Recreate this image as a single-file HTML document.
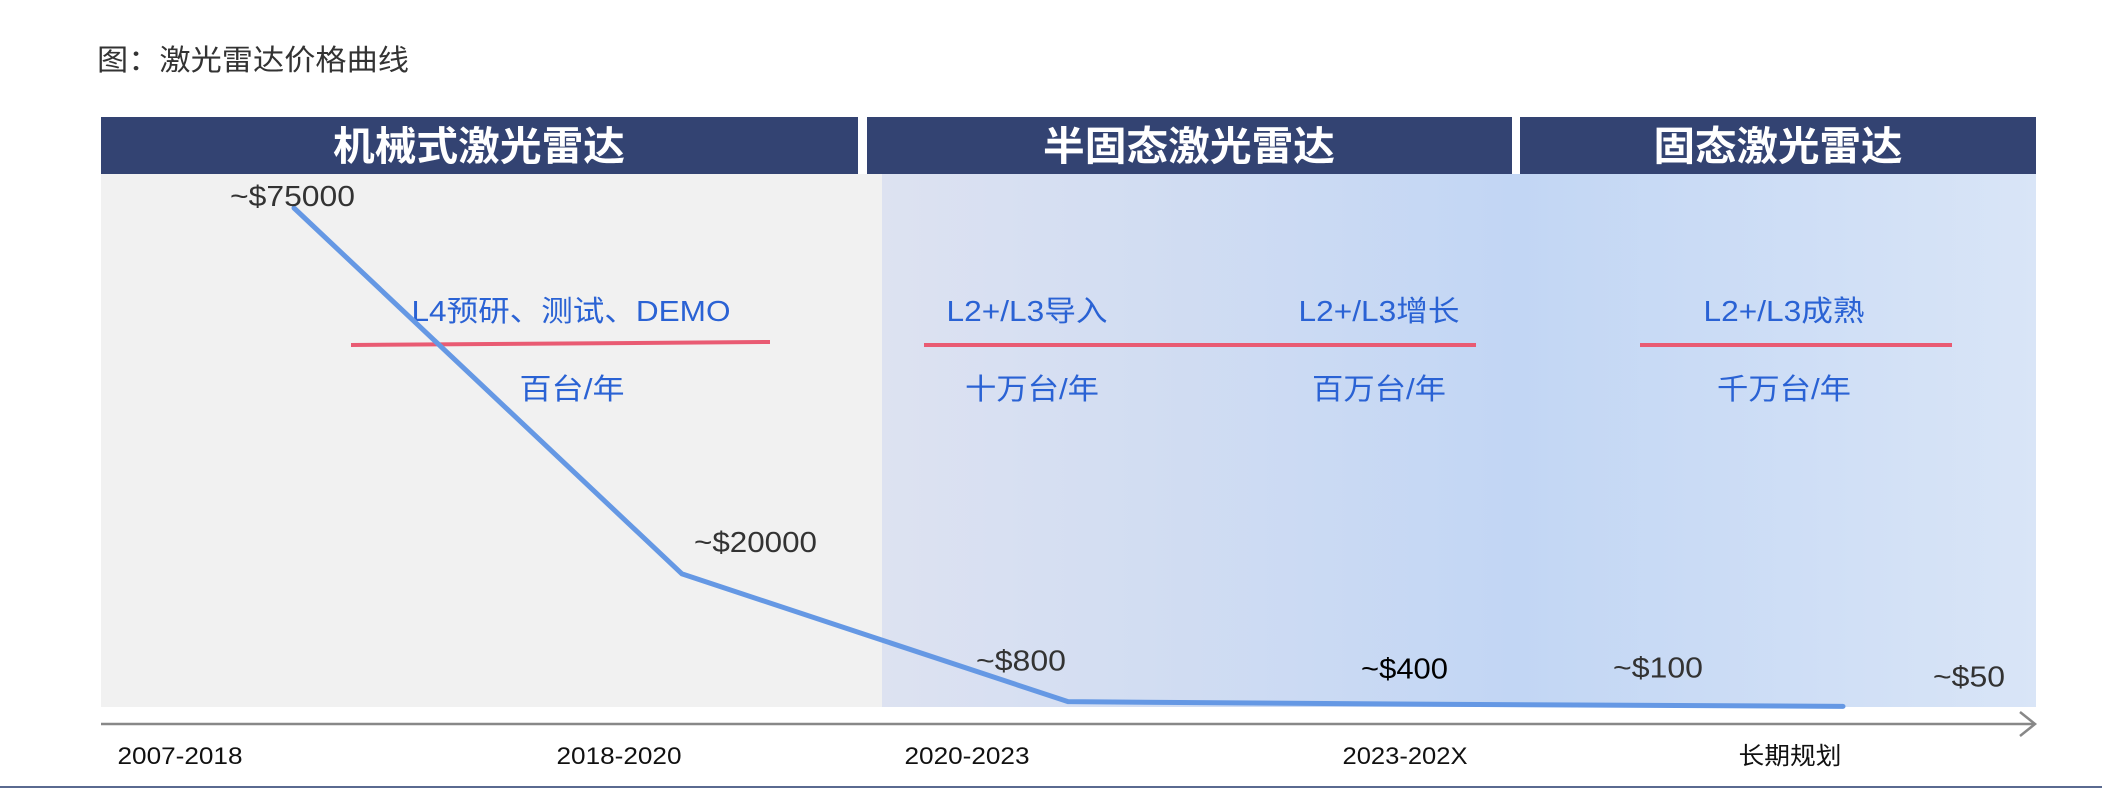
<!DOCTYPE html>
<html><head><meta charset="utf-8"><style>
html,body{margin:0;padding:0;background:#fff;}
svg{display:block;font-family:"Liberation Sans","Noto Sans CJK SC",sans-serif;}
</style></head><body>
<svg id="chart" width="2102" height="790" viewBox="0 0 2102 790">
<defs>
<linearGradient id="g" x1="0" x2="1" y1="0" y2="0">
<stop offset="0" stop-color="#dde2f1"/><stop offset="0.55" stop-color="#c2d6f4"/><stop offset="1" stop-color="#d9e5f7"/>
</linearGradient>
</defs>
<text x="97" y="70" font-size="29" fill="#333" textLength="312" lengthAdjust="spacingAndGlyphs">图：激光雷达价格曲线</text>
<rect x="101" y="117" width="757" height="57" fill="#334372"/>
<rect x="867" y="117" width="645" height="57" fill="#334372"/>
<rect x="1520" y="117" width="516" height="57" fill="#334372"/>
<g font-size="40" font-weight="bold" fill="#fff" text-anchor="middle" lengthAdjust="spacingAndGlyphs">
<text x="479" y="160" textLength="292" lengthAdjust="spacingAndGlyphs">机械式激光雷达</text>
<text x="1189" y="160" textLength="292" lengthAdjust="spacingAndGlyphs">半固态激光雷达</text>
<text x="1778" y="160" textLength="249" lengthAdjust="spacingAndGlyphs">固态激光雷达</text>
</g>
<rect x="101" y="174" width="781" height="533" fill="#f1f1f1"/>
<rect x="882" y="174" width="1154" height="533" fill="url(#g)"/>
<g fill="#2a62d4" font-size="29" text-anchor="middle">
<text x="571" y="321" textLength="319" lengthAdjust="spacingAndGlyphs">L4预研、测试、DEMO</text>
<text x="572" y="399" textLength="105" lengthAdjust="spacingAndGlyphs">百台/年</text>
<text x="1027" y="321" textLength="161" lengthAdjust="spacingAndGlyphs">L2+/L3导入</text>
<text x="1379" y="321" textLength="161" lengthAdjust="spacingAndGlyphs">L2+/L3增长</text>
<text x="1032" y="399" textLength="134" lengthAdjust="spacingAndGlyphs">十万台/年</text>
<text x="1379" y="399" textLength="134" lengthAdjust="spacingAndGlyphs">百万台/年</text>
<text x="1784" y="321" textLength="161" lengthAdjust="spacingAndGlyphs">L2+/L3成熟</text>
<text x="1784" y="399" textLength="134" lengthAdjust="spacingAndGlyphs">千万台/年</text>
</g>
<g stroke="#e95b73" stroke-width="4">
<line x1="351" y1="345" x2="770" y2="342"/>
<line x1="924" y1="345" x2="1476" y2="345"/>
<line x1="1640" y1="345" x2="1952" y2="345"/>
</g>
<g id="plot"></g>
<line x1="101" y1="724" x2="2034" y2="724" stroke="#888" stroke-width="2.5"/>
<polyline points="2020,712 2035,724 2020,736" fill="none" stroke="#888" stroke-width="2.5"/>
<g id="xlabels" font-size="24" fill="#111" text-anchor="middle"></g>
<rect x="0" y="786" width="2102" height="2" fill="#5a6a90"/>
</svg>
<script>
const periods = ["2007-2018","2018-2020","2020-2023","2023-202X","长期规划"];
const prices = [75000, 20000, 800, 400, 100];
const priceLabels = ["~$75000","~$20000","~$800","~$400","~$100","~$50"];
const NS = "http://www.w3.org/2000/svg";
const px = [294, 682, 1068, 1455, 1843];
const labelPeriodX = [180, 619, 967, 1405, 1790];
const periodW = [125, 125, 125, 125, 103];
function xPos(i){ return px[i]; }
function yPos(v){ return 707 - v / 75000 * 499; }
const plot = document.getElementById('plot');
const line = document.createElementNS(NS, 'polyline');
line.setAttribute('points', prices.map((v,i)=>xPos(i)+','+yPos(v)).join(' '));
line.setAttribute('fill','none');
line.setAttribute('stroke','#6598e4');
line.setAttribute('stroke-width','5');
line.setAttribute('stroke-linecap','round');
line.setAttribute('stroke-linejoin','round');


plot.appendChild(line);
const lblPos = [[230,-3],[694,-22],[976,-31],[1361,-26],[1613,-29],[1933,-20]];
const lblW = [125,123,90,87,90,72];
priceLabels.forEach((t,i)=>{
  const el = document.createElementNS(NS,'text');
  const v = i < prices.length ? prices[i] : 50;
  el.setAttribute('x', lblPos[i][0]);
  el.setAttribute('y', (i===0 ? 206 : yPos(v) + lblPos[i][1]));
  el.setAttribute('font-size','29');
  el.setAttribute('textLength', lblW[i]);
  el.setAttribute('lengthAdjust','spacingAndGlyphs');
  el.setAttribute('fill', i===3 ? '#000' : '#333');
  el.textContent = t;
  
  
  plot.appendChild(el);
});
const xl = document.getElementById('xlabels');
periods.forEach((p,i)=>{
  const el = document.createElementNS(NS,'text');
  el.setAttribute('x', labelPeriodX[i]);
  el.setAttribute('y', 764);
  el.setAttribute('textLength', periodW[i]);
  el.setAttribute('lengthAdjust','spacingAndGlyphs');
  el.textContent = p;
  
  
  xl.appendChild(el);
});
</script>
</body></html>
